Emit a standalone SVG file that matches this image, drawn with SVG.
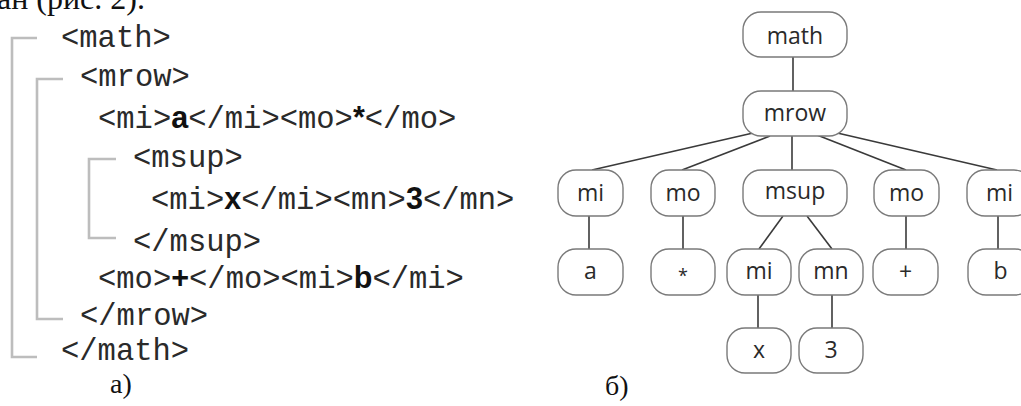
<svg xmlns="http://www.w3.org/2000/svg" width="1021" height="406" viewBox="0 0 1021 406">
<style>
.code{font-family:"Liberation Mono","Courier New",monospace;font-size:30.5px;fill:#2a2a2a}
.code tspan.b{font-family:"Liberation Sans",Arial,sans-serif;font-weight:bold;fill:#111}
.br{fill:none;stroke:#bdbdbd;stroke-width:2.6}
.cap{font-family:"Liberation Serif","Times New Roman",serif;font-size:28px;fill:#111}
.node rect{fill:#fff;stroke:#7a7a7a;stroke-width:1.4}
.node text{font-family:"Open Sans","Liberation Sans",sans-serif;font-size:23px;fill:#2a2a2a;text-anchor:middle}
.edge{stroke:#3a3a3a;stroke-width:1.6;fill:none}
</style>
<rect width="1021" height="406" fill="#fff"/>
<text class="cap" x="-3" y="9" style="font-size:32px">ан (рис. 2).</text>
<g id="code">
<path class="br" d="M37,38 H12 V357 H37"/>
<path class="br" d="M63,79 H37 V319 H63"/>
<path class="br" d="M116,159 H89 V238 H116"/>
<text class="code" x="61" y="47">&lt;math&gt;</text>
<text class="code" x="80" y="86">&lt;mrow&gt;</text>
<text class="code" x="98" y="128">&lt;mi&gt;<tspan class="b">a</tspan>&lt;/mi&gt;&lt;mo&gt;<tspan class="b">*</tspan>&lt;/mo&gt;</text>
<text class="code" x="133" y="167">&lt;msup&gt;</text>
<text class="code" x="151" y="209">&lt;mi&gt;<tspan class="b">x</tspan>&lt;/mi&gt;&lt;mn&gt;<tspan class="b">3</tspan>&lt;/mn&gt;</text>
<text class="code" x="133" y="251">&lt;/msup&gt;</text>
<text class="code" x="98" y="288">&lt;mo&gt;<tspan class="b">+</tspan>&lt;/mo&gt;&lt;mi&gt;<tspan class="b">b</tspan>&lt;/mi&gt;</text>
<text class="code" x="80" y="325">&lt;/mrow&gt;</text>
<text class="code" x="61" y="360">&lt;/math&gt;</text>
<text class="cap" x="110" y="393">а)</text>
</g>
<g id="connectors">
<line class="edge" x1="793" y1="57" x2="793" y2="91"/>
<line class="edge" x1="753" y1="133" x2="592" y2="170"/>
<line class="edge" x1="770" y1="136" x2="682" y2="170"/>
<line class="edge" x1="792" y1="136" x2="792" y2="170"/>
<line class="edge" x1="817" y1="135" x2="906" y2="170"/>
<line class="edge" x1="833" y1="132" x2="997" y2="170"/>
<line class="edge" x1="589" y1="216" x2="589" y2="249"/>
<line class="edge" x1="683" y1="216" x2="683" y2="249"/>
<line class="edge" x1="783" y1="216" x2="759" y2="249"/>
<line class="edge" x1="807" y1="216" x2="832" y2="249"/>
<line class="edge" x1="906" y1="216" x2="906" y2="249"/>
<line class="edge" x1="998" y1="216" x2="998" y2="249"/>
<line class="edge" x1="758" y1="295" x2="758" y2="328"/>
<line class="edge" x1="832" y1="295" x2="832" y2="328"/>
</g>
<g id="n-math" class="node"><rect x="743" y="12" width="104" height="45" rx="18"/><text x="795" y="44">math</text></g>
<g id="n-mrow" class="node"><rect x="743" y="91" width="104" height="45" rx="18"/><text x="795" y="121">mrow</text></g>
<g id="n-mi1" class="node"><rect x="558" y="170" width="65" height="46" rx="18"/><text x="590.5" y="201">mi</text></g>
<g id="n-mo1" class="node"><rect x="651" y="170" width="64" height="46" rx="18"/><text x="683" y="201">mo</text></g>
<g id="n-msup" class="node"><rect x="743" y="170" width="104" height="46" rx="18"/><text x="795" y="199">msup</text></g>
<g id="n-mo2" class="node"><rect x="874" y="170" width="65" height="46" rx="18"/><text x="906.5" y="201">mo</text></g>
<g id="n-mi2" class="node"><rect x="967" y="170" width="65" height="46" rx="18"/><text x="999.5" y="201">mi</text></g>
<g id="n-a" class="node"><rect x="558" y="249" width="65" height="46" rx="18"/><text x="590.5" y="279">a</text></g>
<g id="n-star" class="node"><rect x="651" y="249" width="64" height="46" rx="18"/><text x="683" y="282" style="font-size:18px">*</text></g>
<g id="n-mi3" class="node"><rect x="727" y="249" width="64" height="46" rx="18"/><text x="759" y="279">mi</text></g>
<g id="n-mn" class="node"><rect x="799" y="249" width="64" height="46" rx="18"/><text x="831" y="279">mn</text></g>
<g id="n-plus" class="node"><rect x="873" y="249" width="65" height="46" rx="18"/><text x="905.5" y="280">+</text></g>
<g id="n-b" class="node"><rect x="968" y="249" width="65" height="46" rx="18"/><text x="1000.5" y="279">b</text></g>
<g id="n-x" class="node"><rect x="727" y="328" width="64" height="45" rx="18"/><text x="759" y="358">x</text></g>
<g id="n-3" class="node"><rect x="799" y="328" width="64" height="45" rx="18"/><text x="831" y="358">3</text></g>
<text class="cap" x="605" y="395">б)</text>
</svg>
